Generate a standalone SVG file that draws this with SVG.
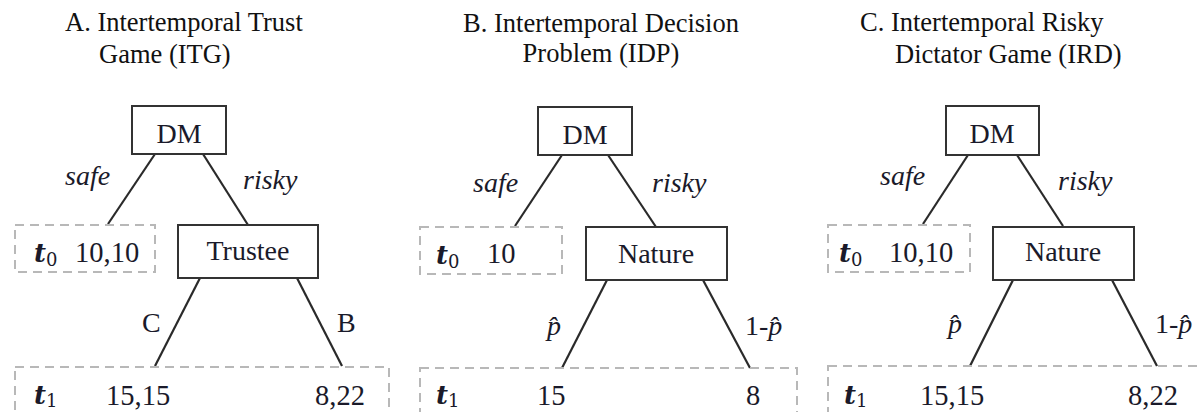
<svg xmlns="http://www.w3.org/2000/svg" width="1201" height="412" viewBox="0 0 1201 412">
  <style>
    .title { font-family: "Liberation Serif", "DejaVu Serif", serif; font-size: 26.5px; fill: #111; }
    .node { fill: #fff; stroke: #333; stroke-width: 2; }
    .outcome { fill: none; stroke: #b8b8b8; stroke-width: 2; stroke-dasharray: 9 6; }
    .lbl { font-family: "Liberation Serif", "DejaVu Serif", serif; font-size: 28px; fill: #1a1a2a; }
    .act { font-family: "Liberation Serif", "DejaVu Serif", serif; font-size: 28px; font-style: italic; fill: #1a1a2a; }
    .num { font-family: "Liberation Serif", "DejaVu Serif", serif; font-size: 28.5px; fill: #1a1a2a; }
    .tvar { font-family: "DejaVu Serif", "Liberation Serif", serif; font-size: 26px; font-style: italic; font-weight: bold; fill: #1a1a2a; }
    .sub { font-size: 18px; font-style: normal; font-weight: normal; }
    .edge { stroke: #2a2a2a; stroke-width: 2.2; fill: none; }
  </style>

  <!-- panel titles -->
  <g id="titles">
    <text class="title" x="65" y="31">A. Intertemporal Trust</text>
    <text class="title" x="99" y="63">Game (ITG)</text>
    <text class="title" x="601" y="32" text-anchor="middle">B. Intertemporal Decision</text>
    <text class="title" x="601" y="62" text-anchor="middle">Problem (IDP)</text>
    <text class="title" x="860" y="31">C. Intertemporal Risky</text>
    <text class="title" x="895" y="63">Dictator Game (IRD)</text>
  </g>

  <!-- tree branches -->
  <g id="connectors">
    <!-- A -->
    <line class="edge" x1="155" y1="154" x2="108" y2="224"/>
    <line class="edge" x1="203" y1="154" x2="248" y2="225"/>
    <line class="edge" x1="200" y1="278" x2="155" y2="366"/>
    <line class="edge" x1="297" y1="278" x2="342" y2="366"/>
    <!-- B -->
    <line class="edge" x1="562" y1="155" x2="515" y2="226"/>
    <line class="edge" x1="608" y1="155" x2="656" y2="227"/>
    <line class="edge" x1="607" y1="280" x2="562" y2="368"/>
    <line class="edge" x1="703" y1="280" x2="750" y2="368"/>
    <!-- C -->
    <line class="edge" x1="968" y1="155" x2="923" y2="224"/>
    <line class="edge" x1="1017" y1="155" x2="1063" y2="226"/>
    <line class="edge" x1="1013" y1="280" x2="970" y2="366"/>
    <line class="edge" x1="1112" y1="280" x2="1157" y2="366"/>
  </g>

  <!-- branch labels -->
  <g id="edge-labels">
    <text class="act" x="65" y="185">safe</text>
    <text class="act" x="243" y="189">risky</text>
    <text class="lbl" x="142" y="332">C</text>
    <text class="lbl" x="337" y="332">B</text>

    <text class="act" x="473" y="192">safe</text>
    <text class="act" x="652" y="192">risky</text>
    <text class="act" x="547" y="335">p&#770;</text>
    <text class="lbl" x="745" y="335">1-<tspan font-style="italic">p&#770;</tspan></text>

    <text class="act" x="880" y="185">safe</text>
    <text class="act" x="1058" y="190">risky</text>
    <text class="act" x="948" y="333">p&#770;</text>
    <text class="lbl" x="1155" y="333">1-<tspan font-style="italic">p&#770;</tspan></text>
  </g>

  <!-- panel A nodes -->
  <g id="a-dm">
    <rect class="node" x="132" y="106" width="94" height="48"/>
    <text class="lbl" x="179" y="143" text-anchor="middle">DM</text>
  </g>
  <g id="a-trustee">
    <rect class="node" x="178" y="225" width="140" height="53"/>
    <text class="lbl" x="248" y="260" text-anchor="middle">Trustee</text>
  </g>
  <g id="a-t0">
    <rect class="outcome" x="15" y="225" width="140" height="47"/>
    <text class="tvar" x="34" y="262">t<tspan class="sub" dy="4">0</tspan></text>
    <text class="num" x="75" y="262">10,10</text>
  </g>
  <g id="a-t1">
    <rect class="outcome" x="15" y="367" width="374" height="60"/>
    <text class="tvar" x="34" y="404">t<tspan class="sub" dy="3">1</tspan></text>
    <text class="num" x="106" y="405">15,15</text>
    <text class="num" x="315" y="405">8,22</text>
  </g>

  <!-- panel B nodes -->
  <g id="b-dm">
    <rect class="node" x="538" y="107" width="94" height="48"/>
    <text class="lbl" x="585" y="144" text-anchor="middle">DM</text>
  </g>
  <g id="b-nature">
    <rect class="node" x="586" y="227" width="141" height="53"/>
    <text class="lbl" x="656" y="263" text-anchor="middle">Nature</text>
  </g>
  <g id="b-t0">
    <rect class="outcome" x="420" y="227" width="142" height="47"/>
    <text class="tvar" x="436" y="264">t<tspan class="sub" dy="4">0</tspan></text>
    <text class="num" x="487" y="263">10</text>
  </g>
  <g id="b-t1">
    <rect class="outcome" x="420" y="368" width="377" height="60"/>
    <text class="tvar" x="436" y="404">t<tspan class="sub" dy="3">1</tspan></text>
    <text class="num" x="537" y="405">15</text>
    <text class="num" x="746" y="405">8</text>
  </g>

  <!-- panel C nodes -->
  <g id="c-dm">
    <rect class="node" x="946" y="106" width="93" height="49"/>
    <text class="lbl" x="992" y="143" text-anchor="middle">DM</text>
  </g>
  <g id="c-nature">
    <rect class="node" x="993" y="227" width="141" height="53"/>
    <text class="lbl" x="1063" y="261" text-anchor="middle">Nature</text>
  </g>
  <g id="c-t0">
    <rect class="outcome" x="828" y="225" width="142" height="47"/>
    <text class="tvar" x="839" y="262">t<tspan class="sub" dy="4">0</tspan></text>
    <text class="num" x="889" y="262">10,10</text>
  </g>
  <g id="c-t1">
    <rect class="outcome" x="828" y="366" width="385" height="60"/>
    <text class="tvar" x="844" y="404">t<tspan class="sub" dy="3">1</tspan></text>
    <text class="num" x="920" y="405">15,15</text>
    <text class="num" x="1128" y="405">8,22</text>
  </g>
</svg>
